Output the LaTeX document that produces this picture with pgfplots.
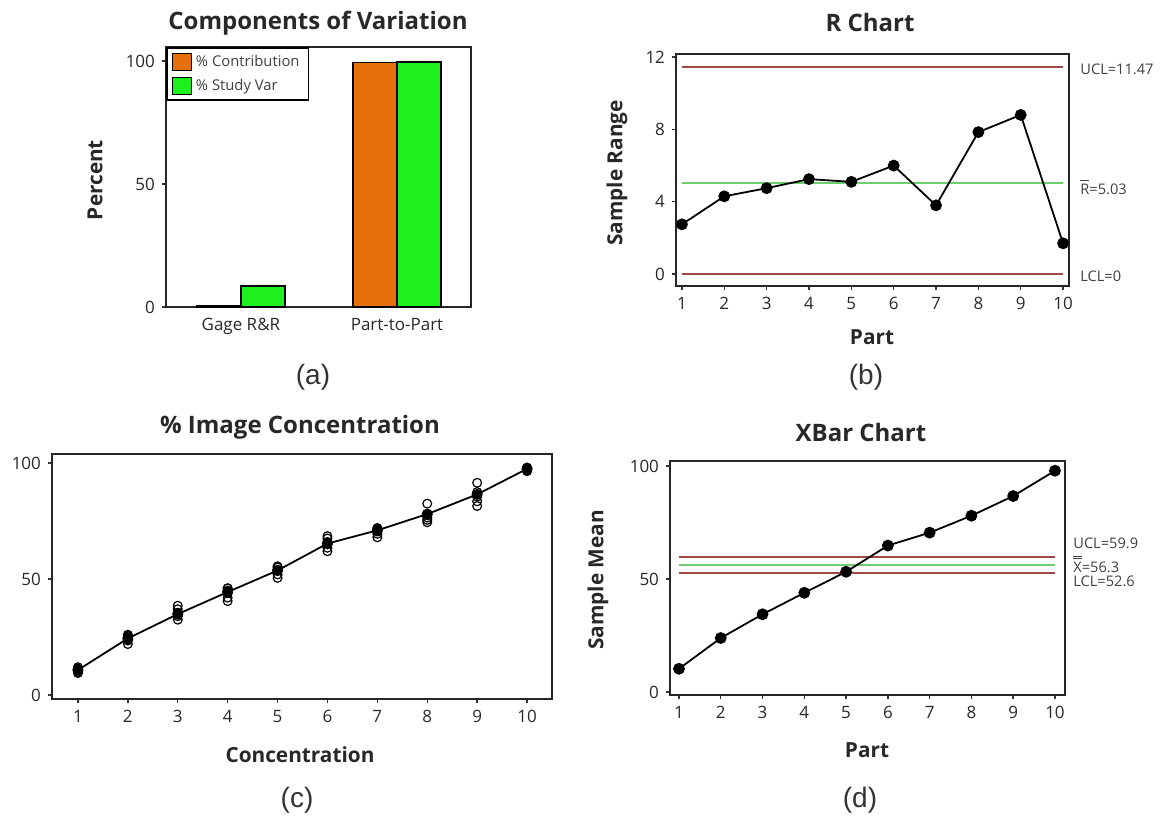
\documentclass[border=0pt]{standalone}
\usepackage{pgfplots}
\pgfplotsset{compat=1.18}
\usepackage{fontspec}
\setmainfont{Open Sans}
\newfontfamily\capfont{Liberation Sans}
\definecolor{barorange}{RGB}{232,112,10}
\definecolor{bargreen}{RGB}{30,240,30}
\definecolor{limred}{RGB}{160,72,72}
\definecolor{limgreen}{RGB}{110,205,110}
\definecolor{txt}{RGB}{40,40,40}

\pgfplotsset{
 minitab/.style={
  scale only axis,
  anchor=north west,
  axis line style={line width=1pt, black!85},
  tick align=outside,
  xtick pos=bottom, ytick pos=left,
  major tick length=2pt,
  tick style={line width=0.7pt, black!80},
  tick label style={font=\fontsize{8.5}{9}\selectfont, text=txt},
  /pgf/number format/assume math mode=true,
  clip=false,
 },
}
\tikzset{limlab/.style={font=\fontsize{7.3}{8}\selectfont, text=black!75, anchor=west, inner sep=0pt}}
\newcommand\barR{\rlap{\raisebox{6.6pt}{\rule{4.5pt}{0.45pt}}}R}
\newcommand\barX{\rlap{\raisebox{6.6pt}{\rule{4.3pt}{0.45pt}}}\rlap{\raisebox{7.8pt}{\rule{4.3pt}{0.45pt}}}X}

\begin{document}
\begin{tikzpicture}
\useasboundingbox (0,0) rectangle (581.5pt,-409.5pt);

% ---------------- (a) Components of Variation
\begin{axis}[minitab, at={(83pt,-23.5pt)}, width=152.5pt, height=130pt,
  xmin=-0.48, xmax=1.474, ymin=0, ymax=105.7,
  xtick={0,1}, xticklabels={Gage R\&R, Part-to-Part},
  x tick style={draw=none},
  ytick={0,50,100},
  bar width=0.282,
  legend style={at={(0,1)}, anchor=north west, draw=black, line width=0.8pt,
     font=\fontsize{7.4}{8}\selectfont, inner xsep=2.5pt, inner ysep=1.5pt,
     row sep=1pt, cells={anchor=west}, text=black!75},
  legend image code/.code={\draw[#1, line width=0.6pt] (0pt,-4.2pt) rectangle (9.5pt,4.2pt);},
]
\addplot[ybar, fill=barorange, draw=black, line width=0.6pt, bar shift=-0.141]
  coordinates {(0,0.7) (1,99.4)};
\addlegendentry{\% Contribution}
\addplot[ybar, fill=bargreen, draw=black, line width=0.6pt, bar shift=0.141]
  coordinates {(0,8.5) (1,99.6)};
\addlegendentry{\% Study Var}
\end{axis}

% ---------------- (b) R Chart
\begin{axis}[minitab, at={(338pt,-27pt)}, width=196.5pt, height=116pt,
  xmin=0.86, xmax=10.14, ymin=-0.66, ymax=12.17,
  xtick={1,...,10}, ytick={0,4,8,12}]
\addplot[limred, line width=1pt] coordinates {(1,11.47) (10,11.47)};
\addplot[limgreen, line width=1pt] coordinates {(1,5.03) (10,5.03)};
\addplot[limred, line width=1pt] coordinates {(1,0) (10,0)};
\addplot[black, line width=0.9pt, mark=*, mark size=2.5pt] coordinates {
 (1,2.75) (2,4.3) (3,4.75) (4,5.25) (5,5.1) (6,6.0) (7,3.8) (8,7.85) (9,8.8) (10,1.7)};
\node[limlab] at (axis cs:10.14,11.34) [xshift=5.5pt] {UCL=11.47};
\node[limlab] at (axis cs:10.14,4.81) [xshift=5.5pt] {\barR=5.03};
\node[limlab] at (axis cs:10.14,-0.1) [xshift=5.5pt] {LCL=0};
\end{axis}

% ---------------- (c) % Image Concentration
\begin{axis}[minitab, at={(26pt,-227pt)}, width=250pt, height=122.5pt,
  xmin=0.48, xmax=10.5, ymin=-1.7, ymax=103.9,
  xtick={1,...,10}, ytick={0,50,100}]
\addplot[only marks, mark=o, mark size=2.2pt, mark options={line width=0.6pt, black}] coordinates {
 (1,9.5) (1,10) (1,10.5) (1,11) (1,11.5) (1,12)
 (2,22) (2,23.5) (2,24) (2,25) (2,25.5) (2,26)
 (3,32.5) (3,34) (3,35) (3,35.5) (3,37) (3,38.5)
 (4,40.5) (4,42) (4,44) (4,45) (4,46) (4,46)
 (5,50.5) (5,52) (5,53.5) (5,54) (5,55) (5,55.5)
 (6,62) (6,63.5) (6,65) (6,66) (6,67.5) (6,68.5)
 (7,68) (7,69.5) (7,70.5) (7,71) (7,71.5) (7,72)
 (8,74.5) (8,75.5) (8,76.5) (8,77.5) (8,78) (8,82.5)
 (9,81.5) (9,83.5) (9,85.5) (9,86.5) (9,87.5) (9,91.5)
 (10,96.5) (10,97) (10,97) (10,97.5) (10,98) (10,98)};
\addplot[black, line width=0.9pt, mark=*, mark size=2.3pt] coordinates {
 (1,10.8) (2,24.4) (3,34.9) (4,44.4) (5,53.7) (6,65.3) (7,71) (8,78) (9,86.5) (10,97.5)};
\end{axis}

% ---------------- (d) XBar Chart
\begin{axis}[minitab, at={(335pt,-230.5pt)}, width=197.5pt, height=117pt,
  xmin=0.785, xmax=10.24, ymin=-1.3, ymax=102.2,
  xtick={1,...,10}, ytick={0,50,100}]
\addplot[limred, line width=1pt] coordinates {(1,59.9) (10,59.9)};
\addplot[limgreen, line width=1pt] coordinates {(1,56.3) (10,56.3)};
\addplot[limred, line width=1pt] coordinates {(1,52.6) (10,52.6)};
\addplot[black, line width=0.9pt, mark=*, mark size=2.5pt] coordinates {
 (1,10.3) (2,23.9) (3,34.4) (4,43.9) (5,53.2) (6,64.8) (7,70.5) (8,78.0) (9,86.7) (10,97.9)};
\node[limlab] at (axis cs:10.24,65.9) [xshift=4pt] {UCL=59.9};
\node[limlab] at (axis cs:10.24,56.6) [xshift=4pt] {\barX=56.3};
\node[limlab] at (axis cs:10.24,49.1) [xshift=4pt] {LCL=52.6};
\end{axis}

% ---------------- titles and labels
\begin{scope}[every node/.style={text=txt}]
\node[font=\bfseries\fontsize{12}{13}\selectfont] at (159pt,-11.5pt) {Components of Variation};
\node[font=\bfseries\fontsize{12}{13}\selectfont] at (435pt,-11.5pt) {R Chart};
\node[font=\bfseries\fontsize{12}{13}\selectfont] at (150pt,-213.5pt) {\% Image Concentration};
\node[font=\bfseries\fontsize{12}{13}\selectfont] at (430.5pt,-216pt) {XBar Chart};
\node[font=\bfseries\fontsize{10.4}{11}\selectfont, rotate=90] at (47.5pt,-90pt) {Percent};
\node[font=\bfseries\fontsize{10.4}{11}\selectfont, rotate=90] at (308.5pt,-86.5pt) {Sample Range};
\node[font=\bfseries\fontsize{10.4}{11}\selectfont, rotate=90] at (299pt,-290pt) {Sample Mean};
\node[font=\bfseries\fontsize{10.4}{11}\selectfont] at (436pt,-168.5pt) {Part};
\node[font=\bfseries\fontsize{10.4}{11}\selectfont] at (150pt,-377.5pt) {Concentration};
\node[font=\bfseries\fontsize{10.4}{11}\selectfont] at (433.5pt,-375pt) {Part};
\end{scope}
\node[font=\capfont\fontsize{14}{15}\selectfont, text=black!80] at (156.5pt,-188.5pt) {(a)};
\node[font=\capfont\fontsize{14}{15}\selectfont, text=black!80] at (433pt,-188.5pt) {(b)};
\node[font=\capfont\fontsize{14}{15}\selectfont, text=black!80] at (148.5pt,-400pt) {(c)};
\node[font=\capfont\fontsize{14}{15}\selectfont, text=black!80] at (430pt,-400pt) {(d)};
\end{tikzpicture}
\end{document}
